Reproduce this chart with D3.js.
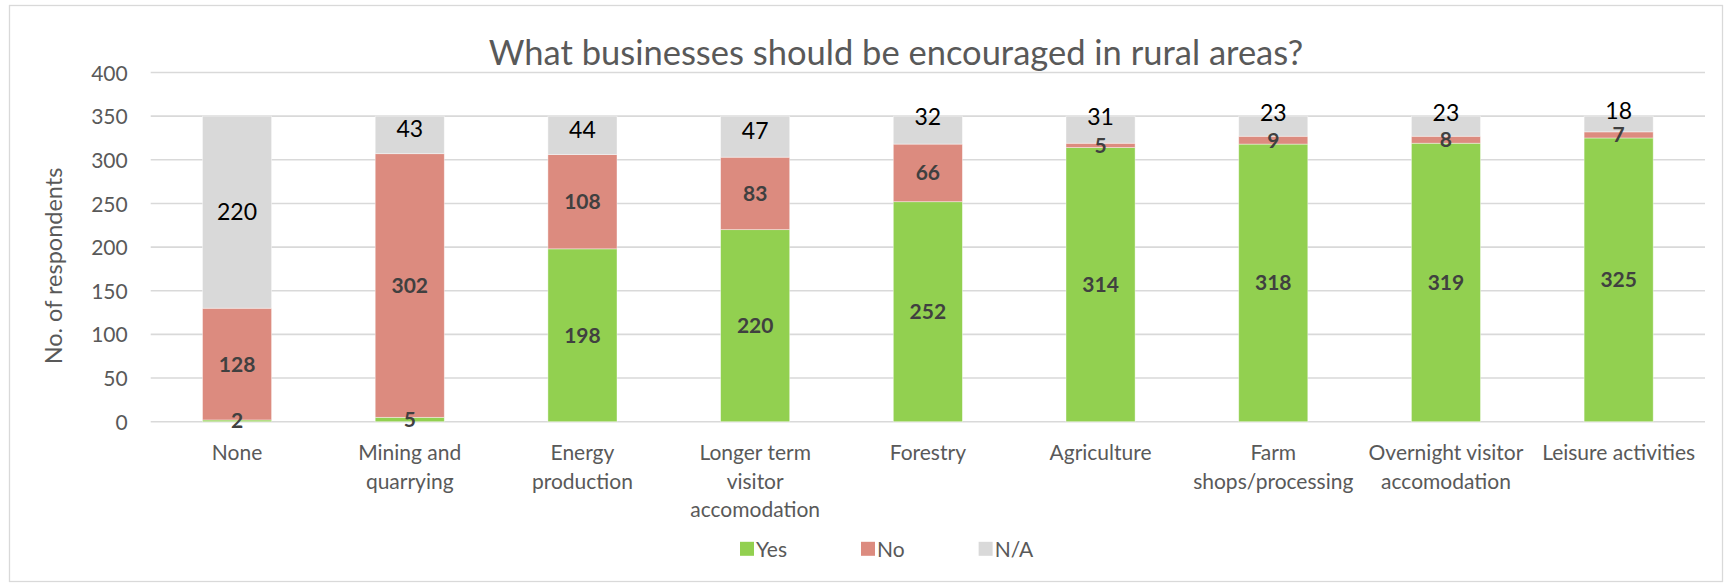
<!DOCTYPE html>
<html>
<head>
<meta charset="utf-8">
<script src="https://cdn.jsdelivr.net/npm/d3@7"></script>
<style>
  html, body { margin: 0; padding: 0; background: #fff; }
  svg { display: block; font-family: Lato, "Open Sans", sans-serif; }
</style>
</head>
<body>
<svg id="chart" width="1732" height="583"></svg>
<script>
// Survey answers per business type (stacked: Yes, No, N/A)
const categories = [
  "None",
  "Mining and\nquarrying",
  "Energy\nproduction",
  "Longer term\nvisitor\naccomodation",
  "Forestry",
  "Agriculture",
  "Farm\nshops/processing",
  "Overnight visitor\naccomodation",
  "Leisure activities"
];
const yesValues = [2, 5, 198, 220, 252, 314, 318, 319, 325];
const noValues  = [128, 302, 108, 83, 66, 5, 9, 8, 7];
const naValues  = [220, 43, 44, 47, 32, 31, 23, 23, 18];
const seriesNames = ["Yes", "No", "N/A"];
const seriesColors = ["#92D050", "#DC8B7F", "#D9D9D9"];
const yTicks = [0, 50, 100, 150, 200, 250, 300, 350, 400];
const titleText = "What businesses should be encouraged in rural areas?";
const yTitle = "No. of respondents";

const rows = categories.map((c, i) => ({
  category: c, "Yes": yesValues[i], "No": noValues[i], "N/A": naValues[i]
}));

const svg = d3.select("#chart");
const plot = { left: 150.7, right: 1705, top: 72.5, bottom: 421.7 };

// chart frame
svg.append("rect")
  .attr("x", 9.5).attr("y", 5.5)
  .attr("width", 1713).attr("height", 576)
  .attr("fill", "#fff").attr("stroke", "#D9D9D9").attr("stroke-width", 1.3);

const x = d3.scaleBand()
  .domain(categories)
  .range([plot.left, plot.right])
  .paddingInner(0.6)
  .paddingOuter(0.3);

const y = d3.scaleLinear()
  .domain([0, 400])
  .range([plot.bottom, plot.top]);

// horizontal gridlines
svg.append("g")
  .selectAll("line")
  .data(yTicks)
  .join("line")
  .attr("x1", plot.left).attr("x2", plot.right)
  .attr("y1", d => y(d)).attr("y2", d => y(d))
  .attr("stroke", "#D9D9D9").attr("stroke-width", 1.6);

// y tick labels
const yAxis = d3.axisLeft(y).tickValues(yTicks).tickSize(0).tickPadding(0);
const gy = svg.append("g")
  .attr("transform", `translate(${plot.left - 23},0)`)
  .call(yAxis);
gy.select(".domain").remove();
gy.selectAll("text")
  .attr("font-family", "Lato, sans-serif")
  .attr("font-size", 21)
  .attr("fill", "#595959")
  .attr("dy", "0.36em");

// y axis title
svg.append("text")
  .attr("transform", `translate(62,266) rotate(-90)`)
  .attr("text-anchor", "middle")
  .attr("font-size", 23.5)
  .attr("fill", "#595959")
  .text(yTitle);

// title
svg.append("text")
  .attr("x", 896).attr("y", 65)
  .attr("text-anchor", "middle")
  .attr("font-size", 34.5)
  .attr("fill", "#595959")
  .text(titleText);

// stacked bars
const stack = d3.stack().keys(seriesNames);
const layers = stack(rows);

const gBars = svg.append("g");
layers.forEach((layer, li) => {
  gBars.append("g")
    .attr("fill", seriesColors[li])
    .selectAll("rect")
    .data(layer)
    .join("rect")
    .attr("x", d => x(d.data.category))
    .attr("width", x.bandwidth())
    .attr("y", d => y(d[1]))
    .attr("height", d => y(d[0]) - y(d[1]))
    .attr("stroke", "#ffffff")
    .attr("stroke-opacity", 0.5)
    .attr("stroke-width", 0.8);
});

// value labels
const gLabels = svg.append("g").attr("text-anchor", "middle");
layers.forEach((layer, li) => {
  const isNA = seriesNames[li] === "N/A";
  gLabels.append("g")
    .selectAll("text")
    .data(layer)
    .join("text")
    .attr("x", d => x(d.data.category) + x.bandwidth() / 2)
    .attr("y", d => {
      const top = y(d[1]), bot = y(d[0]);
      const mid = (top + bot) / 2;
      if (!isNA) return mid;
      const h = bot - top;
      // thin grey caps: lift the label toward the bar top
      return mid - (h >= 100 ? 0 : h >= 35 ? 6 : 13);
    })
    .attr("dy", "0.36em")
    .attr("font-size", isNA ? 23 : 21)
    .attr("font-weight", isNA ? 400 : 700)
    .attr("fill", isNA ? "#000000" : "#404040")
    .text(d => d[1] - d[0]);
});

// category labels (multi-line)
const gx = svg.append("g")
  .attr("text-anchor", "middle")
  .attr("font-size", 21)
  .attr("fill", "#595959");
categories.forEach(c => {
  const t = gx.append("text")
    .attr("x", x(c) + x.bandwidth() / 2)
    .attr("y", 460.3);
  c.split("\n").forEach((line, i) => {
    t.append("tspan")
      .attr("x", x(c) + x.bandwidth() / 2)
      .attr("dy", i === 0 ? 0 : 28.4)
      .text(line);
  });
});

// legend
const legend = svg.append("g");
const items = seriesNames.map((name, i) => {
  const g = legend.append("g");
  g.append("rect")
    .attr("width", 14).attr("height", 14)
    .attr("y", 541.8)
    .attr("fill", seriesColors[i]);
  const t = g.append("text")
    .attr("x", 16)
    .attr("y", 556.5)
    .attr("font-size", 21)
    .attr("fill", "#595959")
    .text(name);
  return { g, w: 16 + t.node().getComputedTextLength() };
});
const gap = 74;
let lx = 740;
items.forEach(it => {
  it.g.attr("transform", `translate(${lx},0)`);
  lx += it.w + gap;
});
</script>
</body>
</html>
